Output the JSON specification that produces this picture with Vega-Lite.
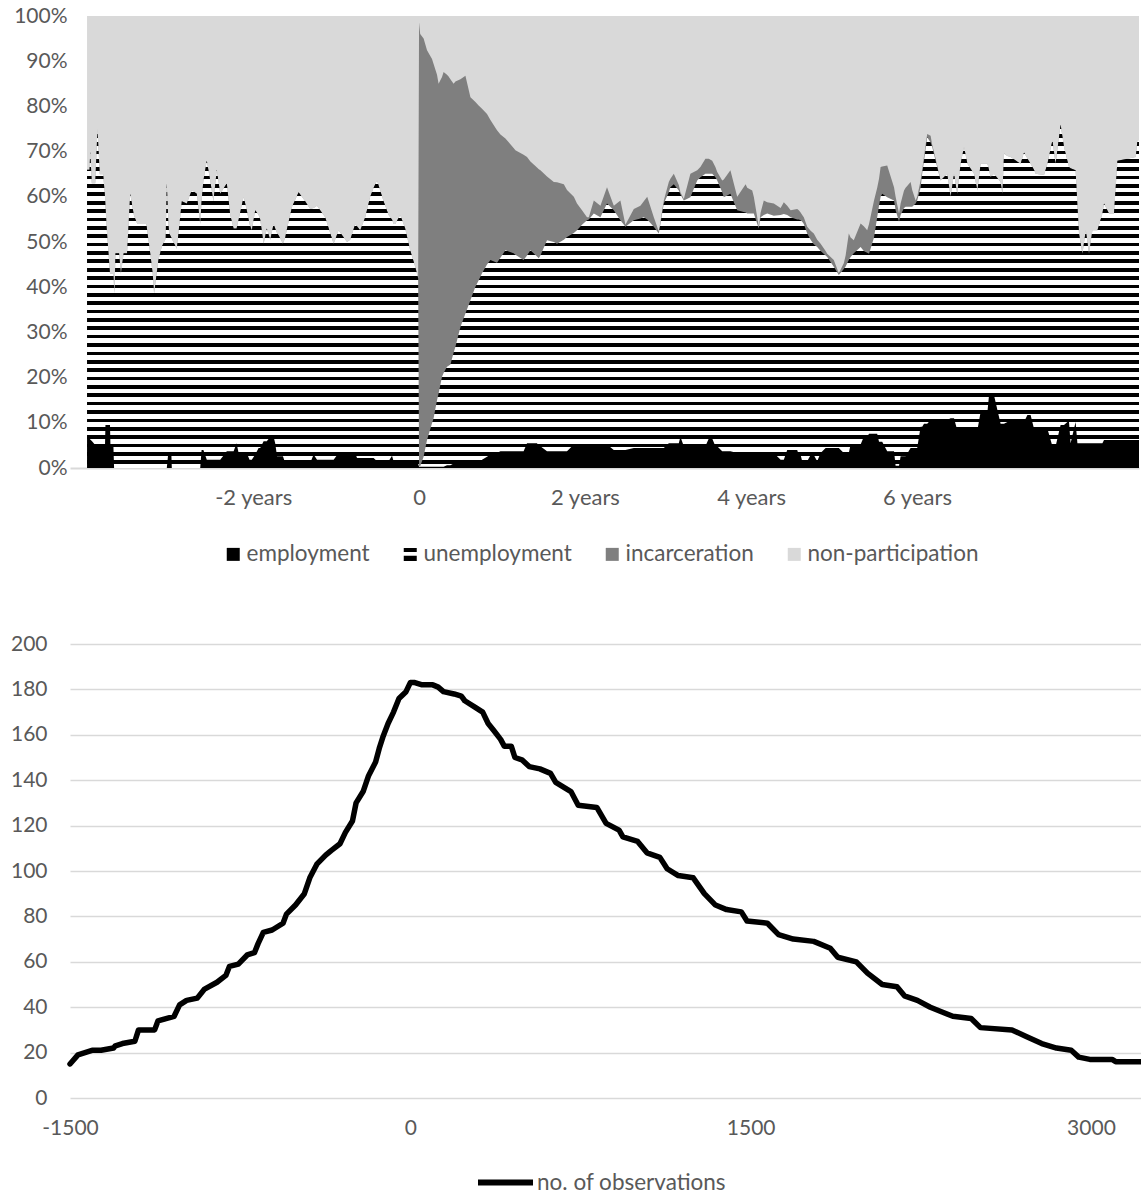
{
"$schema":"https://vega.github.io/schema/vega-lite/v6.json",
"background":"#ffffff",
"padding":{"left":10,"top":5,"right":0,"bottom":0},
"columns":1,
"align":"none",
"spacing":67,
"resolve":{"legend":{"color":"independent","shape":"independent","stroke":"independent"}},
"datasets":{
"lm":[
{"t":-1461,"e":6.9,"u":59.1,"i":0,"n":34},{"t":-1450,"e":6.5,"u":59.5,"i":0,"n":34},{"t":-1447,"e":6.3,"u":63.7,"i":0,"n":30},{"t":-1440,"e":6,"u":57,"i":0,"n":37},{"t":-1425,"e":5.1,"u":57.9,"i":0,"n":37},{"t":-1415,"e":5.1,"u":69.9,"i":0,"n":25},{"t":-1405,"e":5,"u":60,"i":0,"n":35},{"t":-1390,"e":5,"u":60,"i":0,"n":35},{"t":-1382,"e":5,"u":55,"i":0,"n":40},{"t":-1380,"e":9.5,"u":48.5,"i":0,"n":42},{"t":-1374,"e":9.5,"u":43.1,"i":0,"n":47.4},{"t":-1360,"e":9.5,"u":33.5,"i":0,"n":57},{"t":-1358,"e":4.9,"u":38.1,"i":0,"n":57},{"t":-1345,"e":4.9,"u":38.1,"i":0,"n":57},{"t":-1342,"e":0,"u":40,"i":0,"n":60},{"t":-1340,"e":0,"u":38.6,"i":0,"n":61.4},{"t":-1336,"e":0,"u":47.5,"i":0,"n":52.5},{"t":-1320,"e":0,"u":47.5,"i":0,"n":52.5},{"t":-1312,"e":0,"u":43,"i":0,"n":57},{"t":-1300,"e":0,"u":47.5,"i":0,"n":52.5},{"t":-1285,"e":0,"u":47.5,"i":0,"n":52.5},{"t":-1271,"e":0,"u":60.7,"i":0,"n":39.3},{"t":-1255,"e":0,"u":56,"i":0,"n":44},{"t":-1240,"e":0,"u":54,"i":0,"n":46},{"t":-1200,"e":0,"u":54,"i":0,"n":46},{"t":-1183,"e":0,"u":47.5,"i":0,"n":52.5},{"t":-1172,"e":0,"u":43,"i":0,"n":57},{"t":-1166,"e":0,"u":38.6,"i":0,"n":61.4},{"t":-1147,"e":0,"u":46,"i":0,"n":54},{"t":-1132,"e":0,"u":49,"i":0,"n":51},{"t":-1115,"e":0,"u":50.7,"i":0,"n":49.3},{"t":-1110,"e":0,"u":63,"i":0,"n":37},{"t":-1104,"e":3.1,"u":51.9,"i":0,"n":45},{"t":-1100,"e":3.1,"u":48.9,"i":0,"n":48},{"t":-1090,"e":3.1,"u":47.9,"i":0,"n":49},{"t":-1088,"e":0,"u":50.7,"i":0,"n":49.3},{"t":-1066,"e":0,"u":48.5,"i":0,"n":51.5},{"t":-1044,"e":0,"u":59,"i":0,"n":41},{"t":-1022,"e":0,"u":58.5,"i":0,"n":41.5},{"t":-1000,"e":0,"u":61.5,"i":0,"n":38.5},{"t":-978,"e":0,"u":60.7,"i":0,"n":39.3},{"t":-963,"e":0,"u":54,"i":0,"n":46},{"t":-957,"e":4,"u":55,"i":0,"n":41},{"t":-949,"e":4,"u":59.6,"i":0,"n":36.4},{"t":-934,"e":1.8,"u":66.2,"i":0,"n":32},{"t":-919,"e":1.8,"u":61.8,"i":0,"n":36.4},{"t":-905,"e":1.8,"u":57.2,"i":0,"n":41},{"t":-890,"e":1.8,"u":64.2,"i":0,"n":34},{"t":-875,"e":1.8,"u":58.9,"i":0,"n":39.3},{"t":-846,"e":3.7,"u":59.3,"i":0,"n":37},{"t":-831,"e":3.7,"u":52.3,"i":0,"n":44},{"t":-816,"e":3.7,"u":49.3,"i":0,"n":47},{"t":-803,"e":5.5,"u":47.5,"i":0,"n":47},{"t":-794,"e":3.3,"u":51.7,"i":0,"n":45},{"t":-772,"e":3.3,"u":56.7,"i":0,"n":40},{"t":-758,"e":3.3,"u":53.7,"i":0,"n":43},{"t":-746,"e":1.8,"u":52.2,"i":0,"n":46},{"t":-736,"e":1.8,"u":50.8,"i":0,"n":47.4},{"t":-721,"e":3,"u":54,"i":0,"n":43},{"t":-706,"e":4.4,"u":51.6,"i":0,"n":44},{"t":-699,"e":4.4,"u":50.6,"i":0,"n":45},{"t":-684,"e":5.9,"u":43.7,"i":0,"n":50.4},{"t":-670,"e":5.9,"u":47.1,"i":0,"n":47},{"t":-655,"e":6.9,"u":43.6,"i":0,"n":49.5},{"t":-640,"e":6.9,"u":47.1,"i":0,"n":46},{"t":-633,"e":5.5,"u":47.5,"i":0,"n":47},{"t":-625,"e":2.6,"u":49.4,"i":0,"n":48},{"t":-618,"e":2.6,"u":48.9,"i":0,"n":48.5},{"t":-599,"e":2.6,"u":47,"i":0,"n":50.4},{"t":-589,"e":1.1,"u":49.9,"i":0,"n":49},{"t":-581,"e":1.1,"u":51.9,"i":0,"n":47},{"t":-559,"e":1.1,"u":56.7,"i":0,"n":42.2},{"t":-530,"e":1.1,"u":59.9,"i":0,"n":39},{"t":-501,"e":1.1,"u":57.9,"i":0,"n":41},{"t":-479,"e":1.1,"u":56.2,"i":0,"n":42.7},{"t":-464,"e":3,"u":54.5,"i":0,"n":42.5},{"t":-449,"e":1.8,"u":56.2,"i":0,"n":42},{"t":-413,"e":1.8,"u":53.7,"i":0,"n":44.5},{"t":-376,"e":1.8,"u":47.8,"i":0,"n":50.4},{"t":-354,"e":3.3,"u":49.3,"i":0,"n":47.4},{"t":-317,"e":3.3,"u":46.7,"i":0,"n":50},{"t":-303,"e":3.3,"u":47.2,"i":0,"n":49.5},{"t":-281,"e":3.3,"u":50.7,"i":0,"n":46},{"t":-273,"e":2.2,"u":51.3,"i":0,"n":46.5},{"t":-259,"e":2.2,"u":50.4,"i":0,"n":47.4},{"t":-237,"e":2.2,"u":53.3,"i":0,"n":44.5},{"t":-215,"e":2.2,"u":57.8,"i":0,"n":40},{"t":-200,"e":2.2,"u":59.8,"i":0,"n":38},{"t":-185,"e":1.5,"u":62.1,"i":0,"n":36.4},{"t":-156,"e":1.5,"u":57.5,"i":0,"n":41},{"t":-134,"e":1.5,"u":54.5,"i":0,"n":44},{"t":-119,"e":2.7,"u":52.3,"i":0,"n":45},{"t":-112,"e":1.5,"u":52.5,"i":0,"n":46},{"t":-105,"e":1.5,"u":52.5,"i":0,"n":46},{"t":-83,"e":1.5,"u":54.5,"i":0,"n":44},{"t":-68,"e":0.9,"u":53.1,"i":0,"n":46},{"t":-61,"e":0.9,"u":52.1,"i":0,"n":47},{"t":-39,"e":0.9,"u":47.3,"i":0,"n":51.8},{"t":-17,"e":0.9,"u":43.6,"i":0,"n":55.5},{"t":-4,"e":0.9,"u":41.1,"i":0,"n":58},
{"t":0,"e":0.3,"u":0.2,"i":98.1,"n":1.4},{"t":5,"e":0.3,"u":0.1,"i":95.6,"n":4},{"t":20,"e":0.3,"u":2.2,"i":92.5,"n":5},{"t":35,"e":0.3,"u":5.9,"i":86.2,"n":7.6},{"t":57,"e":0.3,"u":9.6,"i":80.6,"n":9.5},{"t":64,"e":0.3,"u":10.7,"i":78.4,"n":10.6},{"t":79,"e":0.3,"u":14.7,"i":72,"n":13},{"t":86,"e":0.3,"u":16.2,"i":68.5,"n":15},{"t":101,"e":0.3,"u":19.9,"i":66.3,"n":13.5},{"t":108,"e":0.3,"u":20.7,"i":66.6,"n":12.4},{"t":123,"e":0.6,"u":21.8,"i":64.6,"n":13},{"t":130,"e":0.6,"u":22,"i":64,"n":13.4},{"t":138,"e":0.6,"u":22.3,"i":63.1,"n":14},{"t":152,"e":1,"u":24.5,"i":59.5,"n":15},{"t":160,"e":1,"u":25.8,"i":58.7,"n":14.5},{"t":182,"e":1,"u":30.2,"i":54.8,"n":14},{"t":204,"e":1,"u":33.2,"i":52.6,"n":13.2},{"t":226,"e":1,"u":36.1,"i":44.9,"n":18},{"t":248,"e":1,"u":39.1,"i":40.9,"n":19},{"t":262,"e":1,"u":40.5,"i":38.7,"n":19.8},{"t":277,"e":1.8,"u":41.3,"i":36.4,"n":20.5},{"t":299,"e":2.5,"u":42.5,"i":33.3,"n":21.7},{"t":314,"e":3,"u":43,"i":31,"n":23},{"t":343,"e":3.3,"u":42.1,"i":29.3,"n":25.3},{"t":358,"e":3.7,"u":42.8,"i":27.3,"n":26.2},{"t":380,"e":3.7,"u":44.5,"i":24.7,"n":27.1},{"t":416,"e":3.7,"u":43.8,"i":23.3,"n":29.2},{"t":424,"e":3.7,"u":43.5,"i":23.1,"n":29.7},{"t":460,"e":3.7,"u":42.3,"i":23.3,"n":30.7},{"t":475,"e":5.5,"u":41.5,"i":21.8,"n":31.2},{"t":490,"e":5.5,"u":42.7,"i":19.6,"n":32.2},{"t":519,"e":5.5,"u":41.3,"i":19.7,"n":33.5},{"t":527,"e":4.8,"u":41.6,"i":19.7,"n":33.9},{"t":534,"e":4.8,"u":42.2,"i":18.9,"n":34.1},{"t":563,"e":3.7,"u":46.7,"i":14.1,"n":35.5},{"t":593,"e":3.7,"u":46.3,"i":13.3,"n":36.7},{"t":607,"e":3.7,"u":45.9,"i":13.6,"n":36.8},{"t":637,"e":3.7,"u":46.8,"i":12.3,"n":37.2},{"t":651,"e":3.7,"u":47.4,"i":10.4,"n":38.5},{"t":681,"e":5.2,"u":46.8,"i":8,"n":40},{"t":695,"e":5.2,"u":47.4,"i":5.9,"n":41.5},{"t":717,"e":5.2,"u":48.6,"i":3.2,"n":43},{"t":739,"e":5.2,"u":49.6,"i":0.7,"n":44.5},{"t":747,"e":5.2,"u":49.8,"i":0.5,"n":44.5},{"t":769,"e":5.2,"u":51.1,"i":2.9,"n":40.8},{"t":798,"e":5.2,"u":50.3,"i":2.5,"n":42},{"t":827,"e":5.2,"u":53.3,"i":3.6,"n":37.9},{"t":857,"e":4,"u":53,"i":1,"n":42},{"t":886,"e":4,"u":50.8,"i":4.4,"n":40.8},{"t":908,"e":4,"u":49.4,"i":0.4,"n":46.2},{"t":945,"e":4.4,"u":50.4,"i":2.5,"n":42.7},{"t":974,"e":4.4,"u":50.8,"i":2.8,"n":42},{"t":989,"e":4.4,"u":51.1,"i":3.5,"n":41},{"t":1004,"e":4.4,"u":50.6,"i":5,"n":40},{"t":1033,"e":4.4,"u":49,"i":2.1,"n":44.5},{"t":1055,"e":4.4,"u":47.5,"i":0.4,"n":47.7},{"t":1077,"e":4.4,"u":54.1,"i":0.7,"n":40.8},{"t":1099,"e":5.5,"u":55.5,"i":2.3,"n":36.7},{"t":1106,"e":5.5,"u":56.6,"i":1.9,"n":36},{"t":1121,"e":5.5,"u":57.3,"i":2.3,"n":34.9},{"t":1143,"e":5.5,"u":55.9,"i":1.2,"n":37.4},{"t":1150,"e":6.9,"u":53.6,"i":0.5,"n":39},{"t":1165,"e":4.8,"u":54.4,"i":0.3,"n":40.5},{"t":1194,"e":4.8,"u":55.1,"i":5.2,"n":34.9},{"t":1224,"e":4.8,"u":58.8,"i":2.3,"n":34.1},{"t":1238,"e":4.8,"u":59.5,"i":2.3,"n":33.4},{"t":1260,"e":4.8,"u":60.3,"i":3.3,"n":31.6},{"t":1275,"e":6.5,"u":58.6,"i":3.3,"n":31.6},{"t":1290,"e":6.5,"u":58.6,"i":2.9,"n":32},{"t":1304,"e":4.8,"u":59.5,"i":2.3,"n":33.4},{"t":1312,"e":4.8,"u":58.8,"i":1.9,"n":34.5},{"t":1334,"e":3.7,"u":57.3,"i":2.6,"n":36.4},{"t":1341,"e":3.7,"u":56.2,"i":3.9,"n":36.2},{"t":1370,"e":3.7,"u":57,"i":5.2,"n":34.1},{"t":1400,"e":3.3,"u":53.7,"i":3,"n":40},{"t":1437,"e":3.3,"u":53.2,"i":6.3,"n":37.2},{"t":1444,"e":3.3,"u":53,"i":5.7,"n":38},{"t":1466,"e":3.3,"u":53,"i":5.1,"n":38.6},{"t":1473,"e":3.3,"u":53,"i":3.7,"n":40},{"t":1495,"e":3.3,"u":49.7,"i":0.4,"n":46.6},{"t":1503,"e":3.3,"u":52.2,"i":1,"n":43.5},{"t":1517,"e":3.3,"u":52.7,"i":3.2,"n":40.8},{"t":1532,"e":3.3,"u":53,"i":2.5,"n":41.2},{"t":1561,"e":3.3,"u":52.5,"i":2.7,"n":41.5},{"t":1591,"e":1.8,"u":54.2,"i":1.5,"n":42.5},{"t":1605,"e":1.8,"u":54.4,"i":2.6,"n":41.2},{"t":1620,"e":4,"u":52,"i":2,"n":42},{"t":1635,"e":4,"u":51.5,"i":1.5,"n":43},{"t":1664,"e":4,"u":51,"i":2.3,"n":42.7},{"t":1671,"e":2.9,"u":52.1,"i":2,"n":43},{"t":1679,"e":2.9,"u":51.9,"i":1.7,"n":43.5},{"t":1686,"e":1.5,"u":53,"i":1.5,"n":44},{"t":1693,"e":1.5,"u":52.5,"i":1.5,"n":44.5},{"t":1708,"e":1.5,"u":50.4,"i":1.5,"n":46.6},{"t":1723,"e":2.9,"u":47.6,"i":2,"n":47.5},{"t":1737,"e":2.9,"u":46.6,"i":2.4,"n":48.1},{"t":1752,"e":1.5,"u":47.4,"i":1.6,"n":49.5},{"t":1767,"e":3.3,"u":44.7,"i":1.6,"n":50.4},{"t":1789,"e":4.4,"u":42.6,"i":1,"n":52},{"t":1796,"e":4.4,"u":42.3,"i":0.7,"n":52.6},{"t":1825,"e":4.4,"u":40.1,"i":1.5,"n":54},{"t":1847,"e":4.4,"u":38.3,"i":0.4,"n":56.9},{"t":1869,"e":3.3,"u":40.7,"i":1.3,"n":54.7},{"t":1877,"e":3.3,"u":41.3,"i":2.4,"n":53},{"t":1891,"e":3.3,"u":42.7,"i":5.9,"n":48.1},{"t":1899,"e":5.2,"u":41.5,"i":4.3,"n":49},{"t":1913,"e":5.2,"u":42.3,"i":2.9,"n":49.6},{"t":1943,"e":5.2,"u":43.7,"i":5.2,"n":45.9},{"t":1957,"e":6.9,"u":41.1,"i":5.5,"n":46.5},{"t":1972,"e":6.9,"u":40.7,"i":5,"n":47.4},{"t":1980,"e":7.6,"u":39.8,"i":6.6,"n":46},{"t":2002,"e":7.6,"u":43.4,"i":8.2,"n":40.8},{"t":2016,"e":7.6,"u":47.9,"i":6.5,"n":38},{"t":2024,"e":5.8,"u":52.2,"i":6,"n":36},{"t":2031,"e":5.8,"u":54.2,"i":6.6,"n":33.4},{"t":2038,"e":5.8,"u":54.9,"i":6,"n":33.3},{"t":2060,"e":3.7,"u":56.2,"i":7,"n":33.1},{"t":2090,"e":3.7,"u":55.5,"i":2.9,"n":37.9},{"t":2097,"e":0.5,"u":56.5,"i":3,"n":40},{"t":2112,"e":0.5,"u":54,"i":1.8,"n":43.7},{"t":2119,"e":2.6,"u":53.4,"i":2.5,"n":41.5},{"t":2134,"e":2.6,"u":54.9,"i":3.9,"n":38.6},{"t":2141,"e":2.6,"u":55.2,"i":4.2,"n":38},{"t":2163,"e":4.4,"u":53.4,"i":5.5,"n":36.7},{"t":2170,"e":4.4,"u":53.4,"i":3.7,"n":38.5},{"t":2185,"e":4.4,"u":54.1,"i":0.7,"n":40.8},{"t":2192,"e":4.4,"u":54.8,"i":0.8,"n":40},{"t":2207,"e":9.1,"u":52.9,"i":1.6,"n":36.4},{"t":2214,"e":9.1,"u":56,"i":0.9,"n":34},{"t":2222,"e":9.8,"u":58.2,"i":1,"n":31},{"t":2236,"e":9.8,"u":63.4,"i":0.7,"n":26.1},{"t":2251,"e":10.6,"u":61.4,"i":1.5,"n":26.5},{"t":2258,"e":10.6,"u":60.4,"i":0.5,"n":28.5},{"t":2273,"e":10.6,"u":57.4,"i":0.5,"n":31.5},{"t":2295,"e":10.6,"u":53,"i":0,"n":36.4},{"t":2324,"e":10.6,"u":54.5,"i":0,"n":34.9},{"t":2339,"e":11,"u":49,"i":0,"n":40},{"t":2354,"e":11,"u":54.1,"i":0,"n":34.9},{"t":2368,"e":8.4,"u":52.3,"i":0,"n":39.3},{"t":2383,"e":8.4,"u":58.9,"i":0,"n":32.7},{"t":2398,"e":8.4,"u":62.6,"i":0,"n":29},{"t":2413,"e":8.4,"u":58.9,"i":0,"n":32.7},{"t":2442,"e":8.4,"u":56.7,"i":0,"n":34.9},{"t":2457,"e":8.4,"u":53,"i":0,"n":38.6},{"t":2471,"e":12.4,"u":54.9,"i":0,"n":32.7},{"t":2501,"e":12.4,"u":54.9,"i":0,"n":32.7},{"t":2508,"e":16.1,"u":49.9,"i":0,"n":34},{"t":2515,"e":16.1,"u":48.3,"i":0,"n":35.6},{"t":2530,"e":16.1,"u":49,"i":0,"n":34.9},{"t":2559,"e":9.8,"u":53.5,"i":0,"n":36.7},{"t":2567,"e":9.8,"u":50.9,"i":0,"n":39.3},{"t":2574,"e":9.8,"u":59.7,"i":0,"n":30.5},{"t":2589,"e":10.2,"u":58.8,"i":0,"n":31},{"t":2603,"e":10.2,"u":58.6,"i":0,"n":31.2},{"t":2647,"e":10.2,"u":57.1,"i":0,"n":32.7},{"t":2662,"e":10.2,"u":59.6,"i":0,"n":30.2},{"t":2677,"e":11.7,"u":56.8,"i":0,"n":31.5},{"t":2691,"e":11.7,"u":55.6,"i":0,"n":32.7},{"t":2706,"e":8.7,"u":57.3,"i":0,"n":34},{"t":2713,"e":8.7,"u":56.4,"i":0,"n":34.9},{"t":2750,"e":8.7,"u":56.1,"i":0,"n":35.2},{"t":2765,"e":8.7,"u":58.6,"i":0,"n":32.7},{"t":2787,"e":4.8,"u":67.7,"i":0,"n":27.5},{"t":2801,"e":4.8,"u":62.5,"i":0,"n":32.7},{"t":2823,"e":9.5,"u":66.5,"i":0,"n":24},{"t":2838,"e":9.5,"u":61.5,"i":0,"n":29},{"t":2853,"e":10.2,"u":57.8,"i":0,"n":32},{"t":2860,"e":10.2,"u":56.4,"i":0,"n":33.4},{"t":2867,"e":5.5,"u":60.8,"i":0,"n":33.7},{"t":2889,"e":10.2,"u":55.7,"i":0,"n":34.1},{"t":2897,"e":5.5,"u":52.5,"i":0,"n":42},{"t":2904,"e":5.5,"u":46.4,"i":0,"n":48.1},{"t":2919,"e":5.5,"u":41.9,"i":0,"n":52.6},{"t":2934,"e":5.5,"u":47.1,"i":0,"n":47.4},{"t":2948,"e":5.5,"u":41.9,"i":0,"n":52.6},{"t":2963,"e":5.5,"u":47.1,"i":0,"n":47.4},{"t":2985,"e":5.5,"u":47.1,"i":0,"n":47.4},{"t":3007,"e":5.5,"u":50.8,"i":0,"n":43.7},{"t":3014,"e":6.2,"u":52.3,"i":0,"n":41.5},{"t":3036,"e":6.2,"u":50.1,"i":0,"n":43.7},{"t":3058,"e":6.2,"u":50.1,"i":0,"n":43.7},{"t":3073,"e":6.2,"u":61.8,"i":0,"n":32},{"t":3117,"e":6.2,"u":62.2,"i":0,"n":31.6},{"t":3154,"e":6.2,"u":62.6,"i":0,"n":31.2},{"t":3161,"e":6.2,"u":66.3,"i":0,"n":27.5},{"t":3168,"e":6.2,"u":66.3,"i":0,"n":27.5}
],
"obs":[
{"t":-1500,"n":15},{"t":-1465,"n":19},{"t":-1434,"n":20},{"t":-1403,"n":21},{"t":-1363,"n":21},{"t":-1308,"n":22},{"t":-1300,"n":23},{"t":-1269,"n":24},{"t":-1214,"n":25},{"t":-1198,"n":30},{"t":-1127,"n":30},{"t":-1112,"n":34},{"t":-1041,"n":36},{"t":-1017,"n":41},{"t":-986,"n":43},{"t":-939,"n":44},{"t":-907,"n":48},{"t":-852,"n":51},{"t":-813,"n":54},{"t":-797,"n":58},{"t":-758,"n":59},{"t":-719,"n":63},{"t":-687,"n":64},{"t":-671,"n":68},{"t":-648,"n":73},{"t":-609,"n":74},{"t":-561,"n":77},{"t":-546,"n":81},{"t":-506,"n":85},{"t":-467,"n":90},{"t":-443,"n":97},{"t":-412,"n":103},{"t":-373,"n":107},{"t":-349,"n":109},{"t":-310,"n":112},{"t":-286,"n":117},{"t":-255,"n":122},{"t":-239,"n":130},{"t":-208,"n":135},{"t":-184,"n":142},{"t":-153,"n":148},{"t":-137,"n":154},{"t":-121,"n":159},{"t":-98,"n":165},{"t":-74,"n":170},{"t":-50,"n":176},{"t":-19,"n":179},{"t":0,"n":183},{"t":20,"n":183},{"t":52,"n":182},{"t":99,"n":182},{"t":123,"n":181},{"t":146,"n":179},{"t":193,"n":178},{"t":225,"n":177},{"t":240,"n":175},{"t":288,"n":172},{"t":319,"n":170},{"t":343,"n":165},{"t":367,"n":162},{"t":398,"n":158},{"t":414,"n":155},{"t":445,"n":155},{"t":461,"n":150},{"t":492,"n":149},{"t":524,"n":146},{"t":571,"n":145},{"t":618,"n":143},{"t":641,"n":139},{"t":708,"n":135},{"t":740,"n":129},{"t":822,"n":128},{"t":863,"n":121},{"t":920,"n":118},{"t":937,"n":115},{"t":1002,"n":113},{"t":1043,"n":108},{"t":1100,"n":106},{"t":1132,"n":101},{"t":1181,"n":98},{"t":1247,"n":97},{"t":1296,"n":90},{"t":1345,"n":85},{"t":1394,"n":83},{"t":1459,"n":82},{"t":1484,"n":78},{"t":1574,"n":77},{"t":1623,"n":72},{"t":1688,"n":70},{"t":1778,"n":69},{"t":1851,"n":66},{"t":1884,"n":62},{"t":1966,"n":60},{"t":2015,"n":55},{"t":2080,"n":50},{"t":2145,"n":49},{"t":2178,"n":45},{"t":2235,"n":43},{"t":2292,"n":40},{"t":2341,"n":38},{"t":2391,"n":36},{"t":2472,"n":35},{"t":2513,"n":31},{"t":2652,"n":30},{"t":2717,"n":27},{"t":2783,"n":24},{"t":2848,"n":22},{"t":2913,"n":21},{"t":2946,"n":18},{"t":2995,"n":17},{"t":3093,"n":17},{"t":3109,"n":16},{"t":3225,"n":16}
]
},
"concat":[
{
"width":1069,"height":452,
"data":{"name":"lm"},
"transform":[
{"fold":["e","u","i","n"],"as":["k","v"]},
{"stack":"v","groupby":["t"],"as":["lo","hi"]}
],
"encoding":{
"x":{"field":"t","type":"quantitative","title":null,"scale":{"domain":[-1536,3168],"nice":false,"zero":false},
"axis":{"values":[-730,0,730,1461,2191],"labelExpr":"datum.value == 0 ? '0' : round(datum.value/365.25) + ' years'","domain":true,"domainColor":"#d9d9d9","domainWidth":2,"labelPadding":19,"labelFontSize":22}},
"y":{"field":"hi","type":"quantitative","title":null,"scale":{"domain":[0,100],"nice":false},
"axis":{"values":[0,10,20,30,40,50,60,70,80,90,100],"labelExpr":"datum.value + '%'","labelPadding":3}}
},
"layer":[
{"transform":[{"filter":"datum.k === 'n'"}],"mark":{"type":"area","fill":"#d9d9d9"}},
{"transform":[{"filter":"datum.k === 'i'"}],"mark":{"type":"area","fill":"#7f7f7f"}},
{"transform":[{"filter":"datum.k === 'u'"}],"mark":{"type":"area","fill":{"gradient":"linear","x1":0,"y1":1,"x2":0,"y2":0,"stops":[
{"offset":0,"color":"#fff"},
{"offset":0.011,"color":"#fff"},{"offset":0.011,"color":"#000"},{"offset":0.022,"color":"#000"},{"offset":0.022,"color":"#fff"},
{"offset":0.035,"color":"#fff"},{"offset":0.035,"color":"#000"},{"offset":0.046,"color":"#000"},{"offset":0.046,"color":"#fff"},
{"offset":0.060,"color":"#fff"},{"offset":0.060,"color":"#000"},{"offset":0.071,"color":"#000"},{"offset":0.071,"color":"#fff"},
{"offset":0.084,"color":"#fff"},{"offset":0.084,"color":"#000"},{"offset":0.095,"color":"#000"},{"offset":0.095,"color":"#fff"},
{"offset":0.109,"color":"#fff"},{"offset":0.109,"color":"#000"},{"offset":0.120,"color":"#000"},{"offset":0.120,"color":"#fff"},
{"offset":0.133,"color":"#fff"},{"offset":0.133,"color":"#000"},{"offset":0.144,"color":"#000"},{"offset":0.144,"color":"#fff"},
{"offset":0.157,"color":"#fff"},{"offset":0.157,"color":"#000"},{"offset":0.168,"color":"#000"},{"offset":0.168,"color":"#fff"},
{"offset":0.182,"color":"#fff"},{"offset":0.182,"color":"#000"},{"offset":0.193,"color":"#000"},{"offset":0.193,"color":"#fff"},
{"offset":0.206,"color":"#fff"},{"offset":0.206,"color":"#000"},{"offset":0.217,"color":"#000"},{"offset":0.217,"color":"#fff"},
{"offset":0.230,"color":"#fff"},{"offset":0.230,"color":"#000"},{"offset":0.241,"color":"#000"},{"offset":0.241,"color":"#fff"},
{"offset":0.255,"color":"#fff"},{"offset":0.255,"color":"#000"},{"offset":0.266,"color":"#000"},{"offset":0.266,"color":"#fff"},
{"offset":0.279,"color":"#fff"},{"offset":0.279,"color":"#000"},{"offset":0.290,"color":"#000"},{"offset":0.290,"color":"#fff"},
{"offset":0.304,"color":"#fff"},{"offset":0.304,"color":"#000"},{"offset":0.315,"color":"#000"},{"offset":0.315,"color":"#fff"},
{"offset":0.328,"color":"#fff"},{"offset":0.328,"color":"#000"},{"offset":0.339,"color":"#000"},{"offset":0.339,"color":"#fff"},
{"offset":0.352,"color":"#fff"},{"offset":0.352,"color":"#000"},{"offset":0.363,"color":"#000"},{"offset":0.363,"color":"#fff"},
{"offset":0.377,"color":"#fff"},{"offset":0.377,"color":"#000"},{"offset":0.388,"color":"#000"},{"offset":0.388,"color":"#fff"},
{"offset":0.401,"color":"#fff"},{"offset":0.401,"color":"#000"},{"offset":0.412,"color":"#000"},{"offset":0.412,"color":"#fff"},
{"offset":0.426,"color":"#fff"},{"offset":0.426,"color":"#000"},{"offset":0.437,"color":"#000"},{"offset":0.437,"color":"#fff"},
{"offset":0.450,"color":"#fff"},{"offset":0.450,"color":"#000"},{"offset":0.461,"color":"#000"},{"offset":0.461,"color":"#fff"},
{"offset":0.474,"color":"#fff"},{"offset":0.474,"color":"#000"},{"offset":0.485,"color":"#000"},{"offset":0.485,"color":"#fff"},
{"offset":0.499,"color":"#fff"},{"offset":0.499,"color":"#000"},{"offset":0.510,"color":"#000"},{"offset":0.510,"color":"#fff"},
{"offset":0.523,"color":"#fff"},{"offset":0.523,"color":"#000"},{"offset":0.534,"color":"#000"},{"offset":0.534,"color":"#fff"},
{"offset":0.548,"color":"#fff"},{"offset":0.548,"color":"#000"},{"offset":0.559,"color":"#000"},{"offset":0.559,"color":"#fff"},
{"offset":0.572,"color":"#fff"},{"offset":0.572,"color":"#000"},{"offset":0.583,"color":"#000"},{"offset":0.583,"color":"#fff"},
{"offset":0.596,"color":"#fff"},{"offset":0.596,"color":"#000"},{"offset":0.607,"color":"#000"},{"offset":0.607,"color":"#fff"},
{"offset":0.621,"color":"#fff"},{"offset":0.621,"color":"#000"},{"offset":0.632,"color":"#000"},{"offset":0.632,"color":"#fff"},
{"offset":0.645,"color":"#fff"},{"offset":0.645,"color":"#000"},{"offset":0.656,"color":"#000"},{"offset":0.656,"color":"#fff"},
{"offset":0.670,"color":"#fff"},{"offset":0.670,"color":"#000"},{"offset":0.681,"color":"#000"},{"offset":0.681,"color":"#fff"},
{"offset":0.694,"color":"#fff"},{"offset":0.694,"color":"#000"},{"offset":0.705,"color":"#000"},{"offset":0.705,"color":"#fff"},
{"offset":0.718,"color":"#fff"},{"offset":0.718,"color":"#000"},{"offset":0.729,"color":"#000"},{"offset":0.729,"color":"#fff"},
{"offset":0.743,"color":"#fff"},{"offset":0.743,"color":"#000"},{"offset":0.754,"color":"#000"},{"offset":0.754,"color":"#fff"},
{"offset":0.767,"color":"#fff"},{"offset":0.767,"color":"#000"},{"offset":0.778,"color":"#000"},{"offset":0.778,"color":"#fff"},
{"offset":0.791,"color":"#fff"},{"offset":0.791,"color":"#000"},{"offset":0.802,"color":"#000"},{"offset":0.802,"color":"#fff"},
{"offset":0.816,"color":"#fff"},{"offset":0.816,"color":"#000"},{"offset":0.827,"color":"#000"},{"offset":0.827,"color":"#fff"},
{"offset":0.840,"color":"#fff"},{"offset":0.840,"color":"#000"},{"offset":0.851,"color":"#000"},{"offset":0.851,"color":"#fff"},
{"offset":0.865,"color":"#fff"},{"offset":0.865,"color":"#000"},{"offset":0.876,"color":"#000"},{"offset":0.876,"color":"#fff"},
{"offset":0.889,"color":"#fff"},{"offset":0.889,"color":"#000"},{"offset":0.900,"color":"#000"},{"offset":0.900,"color":"#fff"},
{"offset":0.913,"color":"#fff"},{"offset":0.913,"color":"#000"},{"offset":0.924,"color":"#000"},{"offset":0.924,"color":"#fff"},
{"offset":0.938,"color":"#fff"},{"offset":0.938,"color":"#000"},{"offset":0.949,"color":"#000"},{"offset":0.949,"color":"#fff"},
{"offset":0.962,"color":"#fff"},{"offset":0.962,"color":"#000"},{"offset":0.973,"color":"#000"},{"offset":0.973,"color":"#fff"},
{"offset":0.987,"color":"#fff"},{"offset":0.987,"color":"#000"},{"offset":0.998,"color":"#000"},{"offset":0.998,"color":"#fff"},
{"offset":1,"color":"#fff"}
]}}},
{"transform":[{"filter":"datum.k === 'e'"}],"mark":{"type":"area","fill":"#000000"}},
{"data":{"values":[{"cat":"employment"},{"cat":"unemployment"},{"cat":"incarceration"},{"cat":"non-participation"}]},
"mark":{"type":"point","filled":true,"opacity":0},
"encoding":{
"color":{"field":"cat","type":"nominal","scale":{"domain":["employment","unemployment","incarceration","non-participation"],"range":["#000000","#000000","#7f7f7f","#d9d9d9"]},
"legend":{"orient":"none","legendX":152,"legendY":527,"direction":"horizontal","title":null,"symbolSize":169,"symbolOpacity":1,"symbolStrokeWidth":0,"labelOffset":2,"columnPadding":29,"labelFontSize":22.5,"labelLimit":400}},
"shape":{"field":"cat","type":"nominal","scale":{"domain":["employment","unemployment","incarceration","non-participation"],"range":["square","M-1,-1H1V-0.35H-1Z M-1,0.2H1V1H-1Z","square","square"]},
"legend":{"orient":"none","legendX":152,"legendY":527,"direction":"horizontal","title":null,"symbolSize":169,"symbolOpacity":1,"symbolStrokeWidth":0,"labelOffset":2,"columnPadding":29,"labelFontSize":22.5,"labelLimit":400}}
}}
]
},
{
"width":1072,"height":454,
"data":{"name":"obs"},
"mark":{"type":"line","strokeWidth":5.5,"strokeJoin":"round","strokeCap":"round"},
"encoding":{
"x":{"field":"t","type":"quantitative","title":null,"scale":{"domain":[-1500,3225],"nice":false,"zero":false},
"axis":{"values":[-1500,0,1500,3000],"labelExpr":"'' + datum.value","labelPadding":19}},
"y":{"field":"n","type":"quantitative","title":null,"scale":{"domain":[0,200],"nice":false},
"axis":{"values":[0,20,40,60,80,100,120,140,160,180,200],"grid":true,"gridColor":"#d9d9d9","gridWidth":1.3,"labelPadding":23}},
"stroke":{"datum":"no. of observations","type":"nominal","scale":{"range":["#000000"]},
"legend":{"orient":"none","legendX":405,"legendY":508,"title":null,"symbolType":"stroke","symbolSize":3025,"symbolStrokeWidth":6,"labelOffset":1,"labelLimit":400,"labelFontSize":22.5}}
}
}
],
"config":{
"font":"Lato",
"view":{"stroke":null},
"axis":{"labelFont":"Lato","labelFontSize":21,"labelColor":"#595959","ticks":false,"tickSize":0,"domain":false,"grid":false,"labelOverlap":false,"labelFlush":false},
"legend":{"labelFont":"Lato","labelFontSize":21,"labelColor":"#595959","padding":0}
}
}
